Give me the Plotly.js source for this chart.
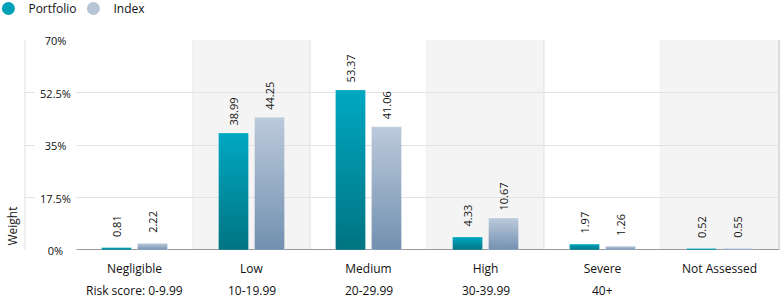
<!DOCTYPE html>
<html>
<head>
<meta charset="utf-8">
<script src="https://cdn.plot.ly/plotly-3.0.1.min.js"></script>
<style>
html,body{margin:0;padding:0;background:#fff;}
#chart{width:780px;height:300px;}
</style>
</head>
<body>
<div id="chart"></div>
<script>
const categories = ['Negligible','Low','Medium','High','Severe','Not Assessed'];
const ranges = ['Risk score: 0-9.99','10-19.99','20-29.99','30-39.99','40+',''];
const portfolio = [0.81,38.99,53.37,4.33,1.97,0.52];
const indexVals = [2.22,44.25,41.06,10.67,1.26,0.55];
const yTicks = [0,17.5,35,52.5,70];
const yTickLabels = ['0%','17.5%','35%','52.5%','70%'];
const seriesNames = ['Portfolio','Index'];

const FONT = 'Open Sans, sans-serif';
const TXT = '#111';
const colP = '#00a3bc', colI = '#b3c3d5';

const xIdx = categories.map((c,i)=>i);

const traces = [
  {type:'bar', name:seriesNames[0], x:xIdx, y:portfolio, marker:{color:colP, line:{color:'rgba(255,255,255,0.5)', width:0.5}}, showlegend:false, hoverinfo:'skip'},
  {type:'bar', name:seriesNames[1], x:xIdx, y:indexVals, marker:{color:colI, line:{color:'rgba(255,255,255,0.5)', width:0.5}}, showlegend:false, hoverinfo:'skip'},
  {type:'scatter', mode:'markers', name:seriesNames[0], x:[null], y:[null], marker:{color:'#00a0b8', size:13, symbol:'circle'}},
  {type:'scatter', mode:'markers', name:seriesNames[1], x:[null], y:[null], marker:{color:'#b5c5d6', size:13, symbol:'circle'}}
];

const shapes = [];
categories.forEach((c,i)=>{
  if(i%2===1) shapes.push({type:'rect', xref:'x', yref:'paper', x0:i-0.5, x1:i+0.5, y0:0, y1:1, fillcolor:'#f4f4f4', line:{width:0}, layer:'below'});
  if(i<categories.length-1) shapes.push({type:'line', xref:'x', yref:'paper', x0:i+0.5, x1:i+0.5, y0:0, y1:1, line:{color:'#e0e0e0', width:1}, layer:'below'});
});
shapes.push({type:'line', xref:'paper', yref:'paper', x0:0, x1:0, y0:0, y1:1, line:{color:'#e0e0e0', width:1}, layer:'below'});
shapes.push({type:'line', xref:'paper', yref:'paper', x0:1, x1:1, y0:0, y1:1, line:{color:'#dcdcdc', width:2}, layer:'below'});
shapes.push({type:'line', xref:'x', yref:'y', x0:-0.5, x1:5.52, y0:0, y1:0, line:{color:'#999999', width:2}, layer:'between'});

const annotations = [];
yTicks.forEach((v,k)=>{
  annotations.push({xref:'paper', yref:'y', x:0.0405, y:v, xanchor:'center', yanchor:'middle', text:yTickLabels[k], showarrow:false, bgcolor:'#ffffff', width:41, height:12, borderpad:0, font:{family:FONT, size:11, color:TXT}});
});
categories.forEach((c,i)=>{
  annotations.push({xref:'x', yref:'y', x:i, y:portfolio[i], xshift:-18, yshift:21, xanchor:'center', yanchor:'middle', textangle:-90, text:portfolio[i].toFixed(2), showarrow:false, font:{family:FONT, size:11, color:TXT}});
  annotations.push({xref:'x', yref:'y', x:i, y:indexVals[i], xshift:18, yshift:21, xanchor:'center', yanchor:'middle', textangle:-90, text:indexVals[i].toFixed(2), showarrow:false, font:{family:FONT, size:11, color:TXT}});
  if(ranges[i]) annotations.push({xref:'x', yref:'paper', x:i, y:0, yshift:-40, xanchor:'center', yanchor:'middle', text:ranges[i], showarrow:false, font:{family:FONT, size:12, color:TXT}});
});
annotations.push({xref:'paper', yref:'paper', x:0, y:0, xshift:-13, yshift:2, xanchor:'center', yanchor:'bottom', textangle:-90, text:'Weight', showarrow:false, font:{family:FONT, size:12, color:TXT}});

const layout = {
  width:780, height:300,
  margin:{l:25, r:1, t:40, b:50, pad:0, autoexpand:false},
  paper_bgcolor:'#fff', plot_bgcolor:'rgba(0,0,0,0)',
  font:{family:FONT, size:12, color:TXT},
  barmode:'group', bargap:0.385, bargroupgap:1/6,
  xaxis:{type:'linear', range:[-0.9359, 5.5085], tickvals:xIdx, ticktext:categories, showgrid:false, zeroline:false, showline:false,
         ticks:'outside', ticklen:8, tickcolor:'rgba(0,0,0,0)', tickfont:{family:FONT, size:12, color:TXT}, fixedrange:true, automargin:false},
  yaxis:{range:[0,70], tickvals:yTicks, showticklabels:false, showgrid:true, gridcolor:'#e2e2e2', gridwidth:1, zeroline:false, showline:false, fixedrange:true, automargin:false},
  showlegend:true,
  legend:{orientation:'h', x:-0.0485, xanchor:'left', y:1.219, yref:'paper', yanchor:'top', font:{family:FONT, size:12, color:TXT}, bgcolor:'rgba(0,0,0,0)', entrywidth:40, itemwidth:30, tracegroupgap:0},
  shapes:shapes, annotations:annotations
};

Plotly.newPlot('chart', traces, layout, {displayModeBar:false, staticPlot:true}).then(gd=>{
  const ns='http://www.w3.org/2000/svg';
  const svg = gd.querySelector('.main-svg');
  let defs = svg.querySelector('defs');
  if(!defs){defs=document.createElementNS(ns,'defs'); svg.insertBefore(defs, svg.firstChild);}
  const grads = [['gradP','#00a8c2','#007482'],['gradI','#bccadb','#7290b0']];
  grads.forEach(g=>{
    const lg=document.createElementNS(ns,'linearGradient');
    lg.setAttribute('id',g[0]); lg.setAttribute('x1','0'); lg.setAttribute('y1','0'); lg.setAttribute('x2','0'); lg.setAttribute('y2','1');
    [[0,g[1]],[1,g[2]]].forEach(s=>{const st=document.createElementNS(ns,'stop'); st.setAttribute('offset',s[0]); st.setAttribute('stop-color',s[1]); lg.appendChild(st);});
    defs.appendChild(lg);
  });
  gd.querySelectorAll('.barlayer .trace').forEach((tr,k)=>{
    tr.querySelectorAll('path').forEach(p=>{p.style.fill='url(#'+grads[k][0]+')';});
  });
});
</script>
</body>
</html>
